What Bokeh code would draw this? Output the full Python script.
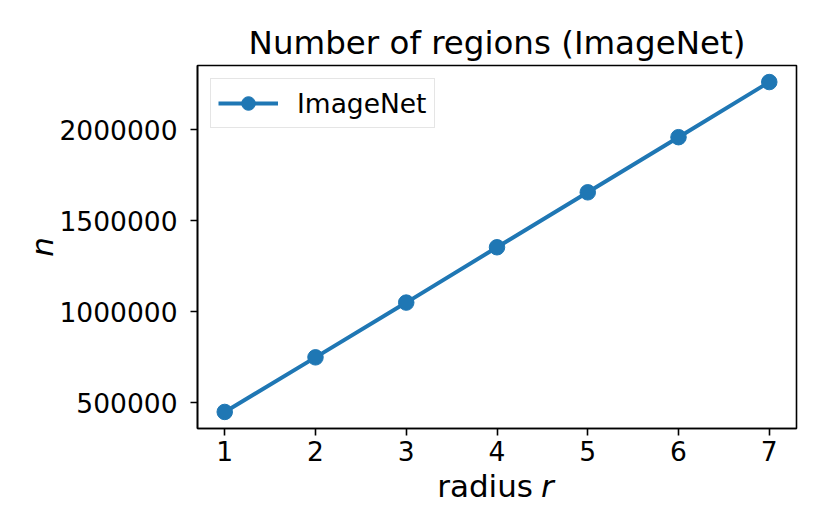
from bokeh.plotting import figure
from bokeh.models import Range1d, Label, FixedTicker, BasicTickFormatter
from bokeh.embed import file_html
from bokeh.resources import INLINE

radius = [1, 2, 3, 4, 5, 6, 7]
n_regions = [449000, 749000, 1050000, 1354000, 1656000, 1959000, 2262000]
x_ticks = [1, 2, 3, 4, 5, 6, 7]
y_ticks = [500000, 1000000, 1500000, 2000000]
series_name = "ImageNet"
title_text = "Number of regions (ImageNet)"

FONT = "DejaVu Sans"
BLUE = "#1f77b4"

p = figure(frame_width=599, frame_height=363, output_backend="svg",
           toolbar_location=None,
           x_range=Range1d(0.7, 7.3), y_range=Range1d(358000, 2353000),
           min_border_left=197, min_border_right=18, min_border_top=65,
           min_border_bottom=0)
p.background_fill_color = "white"
p.border_fill_color = "white"
p.outline_line_color = "black"
p.outline_line_width = 1.6
p.outline_line_alpha = 1.0
p.grid.visible = False

p.title.text = title_text
p.title.text_font = FONT
p.title.text_font_size = "32.5px"
p.title.text_font_style = "normal"
p.title.align = "center"
p.title.text_color = "black"
p.title.standoff = 8

p.line(radius, n_regions, line_width=4, color=BLUE, legend_label=series_name)
p.scatter(radius, n_regions, size=15.5, color=BLUE, legend_label=series_name)

for ax in (p.xaxis[0], p.yaxis[0]):
    ax.axis_line_width = 1.6
    ax.axis_line_color = "black"
    ax.major_tick_line_width = 1.6
    ax.major_tick_line_color = "black"
    ax.major_tick_out = 7
    ax.major_tick_in = 0
    ax.minor_tick_out = 0
    ax.minor_tick_in = 0
    ax.major_label_text_font = FONT
    ax.major_label_text_font_size = "26.5px"
    ax.major_label_text_color = "black"

p.xaxis.ticker = FixedTicker(ticks=x_ticks)
p.yaxis.ticker = FixedTicker(ticks=y_ticks)
p.yaxis.formatter = BasicTickFormatter(use_scientific=False)
p.xaxis.major_label_standoff = 5
p.yaxis.major_label_standoff = 13

p.yaxis.axis_label = "n"
p.yaxis.axis_label_text_font = FONT
p.yaxis.axis_label_text_font_style = "italic"
p.yaxis.axis_label_text_font_size = "31px"
p.yaxis.axis_label_text_color = "black"
p.yaxis.axis_label_standoff = -4

lab1 = Label(x=4, y=14, y_units="screen", x_offset=36, text="radius",
             text_align="right", text_baseline="alphabetic",
             text_font=FONT, text_font_size="31px", text_color="black")
lab2 = Label(x=4, y=50, y_units="screen", x_offset=44, text="r",
             text_align="left", text_baseline="alphabetic",
             text_font=FONT, text_font_size="31px", text_font_style="italic",
             text_color="black")
p.add_layout(lab1, "below")
p.add_layout(lab2, "below")

lg = p.legend[0]
lg.location = "top_left"
lg.margin = 13
lg.padding = 7
lg.spacing = 0
lg.glyph_width = 60
lg.glyph_height = 34
lg.label_height = 30
lg.label_standoff = 19
lg.label_text_font = FONT
lg.label_text_font_size = "26.5px"
lg.label_text_color = "black"
lg.border_line_color = "#cccccc"
lg.border_line_width = 1.5
lg.background_fill_alpha = 0.8

open("out.html", "w").write(file_html(p, INLINE))
